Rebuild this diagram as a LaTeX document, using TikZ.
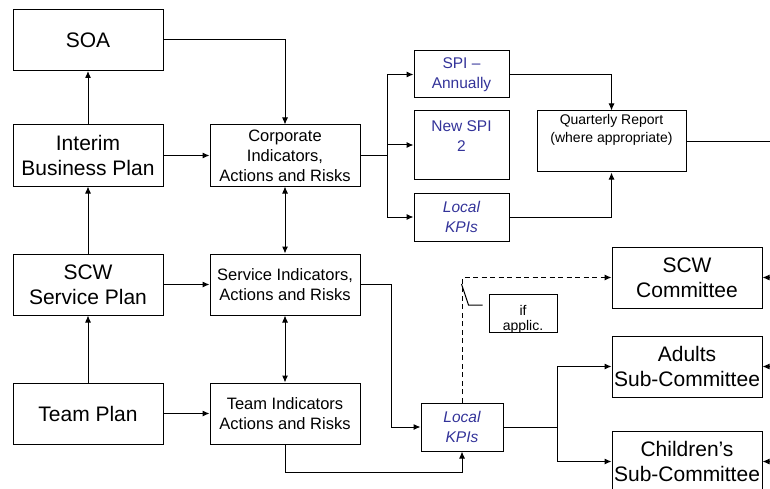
\documentclass[tikz,border=0pt]{standalone}
\usepackage{fontspec}
\setmainfont{Liberation Sans}
\usepackage{tikz}
\usetikzlibrary{arrows.meta,positioning}
\definecolor{spiblue}{RGB}{51,51,153}

\begin{document}
\begin{tikzpicture}[x=1pt, y=-1pt, >={Latex[length=7pt,width=6pt]}, line width=1pt,
	planbox/.style={draw=black,minimum width=150pt,minimum height=61pt,inner sep=0pt,align=center,font=\fontsize{21}{25}\selectfont},
	indbox/.style={draw=black,minimum width=150pt,minimum height=61pt,inner sep=0pt,align=center,font=\fontsize{16.5}{20}\selectfont},
	spibox/.style={draw=black,minimum width=95pt,inner sep=0pt,align=center,text=spiblue,font=\fontsize{15.5}{20}\selectfont},
	kpibox/.style={spibox,font=\fontsize{15.5}{20}\selectfont\itshape},
	smalltext/.style={inner sep=0pt,align=center,font=\fontsize{14}{17.5}\selectfont}]
	\useasboundingbox (0,0) rectangle (770,489);
	% plans
	\node[planbox] at (88,40) (soa) {SOA};
	\node[planbox] at (88,155.5) (ibp) {Interim\\Business Plan};
	\node[planbox] at (88,284.5) (scwsp) {SCW\\Service Plan};
	\node[planbox] at (88,413.5) (teamplan) {Team Plan};
	% indicators
	\node[indbox] at (285,155.5) (corp) {Corporate\\Indicators,\\Actions and Risks};
	\node[indbox] at (285,284.5) (servind) {Service Indicators,\\Actions and Risks};
	\node[indbox] at (285,413.5) (teamind) {Team Indicators\\Actions and Risks};
	% SPIs
	\node[spibox,minimum height=47pt] at (461.5,74.5) (spiann) {SPI –\\Annually};
	\node[spibox,minimum height=68pt] at (461.5,145) (newspi) {};
	\node[smalltext,text=spiblue,font=\fontsize{15.5}{20}\selectfont,below=10pt of newspi.north] (newspitext) {New SPI\\2};
	\node[kpibox,minimum height=48pt] at (461.5,217) (kpitop) {Local\\KPIs};
	\node[draw=black,minimum width=149pt,minimum height=61pt] at (611.5,141.5) (qr) {};
	\node[smalltext,below=3.5pt of qr.north] (qrtext) {Quarterly Report\\(where appropriate)};
	% committees
	\node[kpibox,minimum width=82pt,minimum height=48pt] at (462,427) (kpibot) {Local\\KPIs};
	\node[planbox] at (687,277.5) (scwcom) {SCW\\Committee};
	\node[planbox] at (687,366.5) (adultcom) {Adults\\Sub-Committee};
	\node[planbox] at (687,461.5) (childcom) {Children’s\\Sub-Committee};
	\node[draw=black,minimum width=68pt,minimum height=38pt] at (523,313) (ifbox) {};
	\node[smalltext,font=\fontsize{14}{15.5}\selectfont,below=11pt of ifbox.north] (iftext) {if\\applic.};

	\coordinate (split1) at (387,155.5);
	\coordinate (split2) at (557,427);
	\coordinate (qrout) at (772,141.5);

	\draw[->] (ibp) -- (soa);
	\draw[->] (scwsp) -- (ibp);
	\draw[->] (teamplan) -- (scwsp);
	\draw[->] (ibp) -- (corp);
	\draw[->] (scwsp) -- (servind);
	\draw[->] (teamplan) -- (teamind);
	\draw[->] (soa) -| (corp);
	\draw[<->] (corp) -- (servind);
	\draw[<->] (servind) -- (teamind);
	\draw (corp) -- (split1);
	\draw[->] (split1) |- (spiann);
	\draw[->] (split1) |- (newspi);
	\draw[->] (split1) |- (kpitop);
	\draw[->] (spiann) -| (qr);
	\draw[->] (kpitop) -| (qr);
	\draw (qr) -- (qrout);
	\draw[->] (servind.east) -- ++(31,0) |- (kpibot);
	\draw[->] (teamind.south) -- ++(0,28) -| (kpibot);
	\draw (kpibot) -- (split2);
	\draw[->] (split2) |- (adultcom);
	\draw[->] (split2) |- (childcom);
	\draw[->,dashed,dash pattern=on 5pt off 3.5pt] (kpibot) |- (scwcom);
	\draw (ifbox.west) ++(-6,-8) -- ++(-14,0) -- ++(-7,-21);
	\foreach \c in {scwcom,adultcom,childcom}
		\draw[<-] (\c.east) -- ++(10,0);
\end{tikzpicture}
\end{document}
